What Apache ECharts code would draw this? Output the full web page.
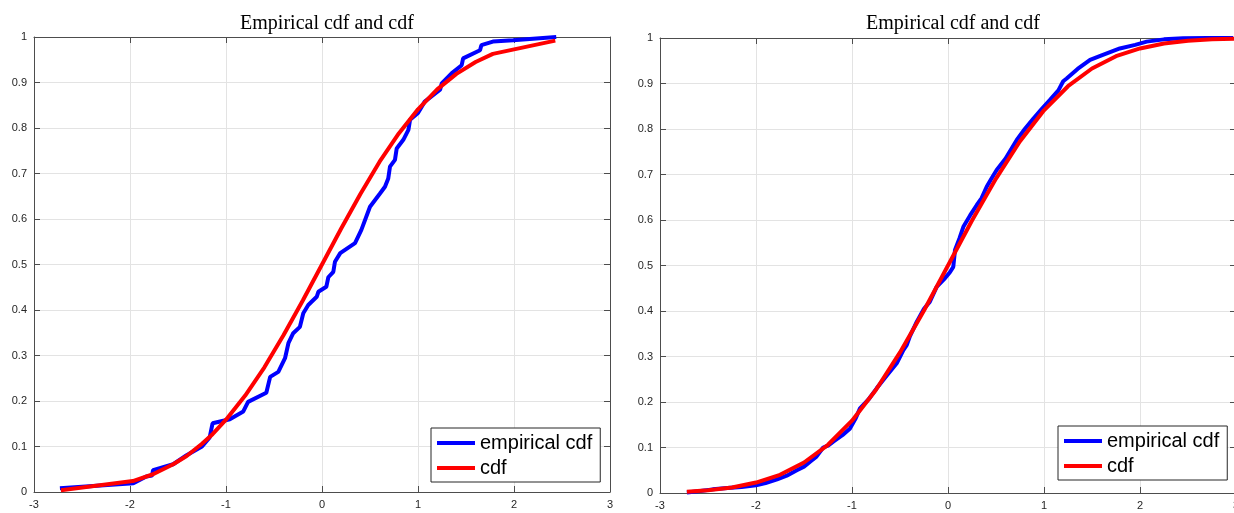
<!DOCTYPE html>
<html>
<head>
<meta charset="utf-8">
<script src="https://cdn.jsdelivr.net/npm/echarts@6/dist/echarts.min.js"></script>
<style>
html,body{margin:0;padding:0;background:#fff;}
#chart{width:1234px;height:513px;}
</style>
</head>
<body>
<div id="chart"></div>
<script>
// ---- data ----
var titleText = 'Empirical cdf and cdf';
var legendNames = ['empirical cdf', 'cdf'];
var xTicks = [-3, -2, -1, 0, 1, 2, 3];
var yTicks = [0, 0.1, 0.2, 0.3, 0.4, 0.5, 0.6, 0.7, 0.8, 0.9, 1];

// left panel: empirical cdf
var leftEmpX = [-2.73, -1.965, -1.83, -1.77, -1.76, -1.55, -1.41, -1.25, -1.17, -1.14, -0.96, -0.82, -0.77, -0.58, -0.54, -0.455, -0.385, -0.35, -0.30, -0.23, -0.195, -0.143, -0.055, -0.038, 0.045, 0.066, 0.118, 0.135, 0.19, 0.344, 0.41, 0.5, 0.604, 0.656, 0.69, 0.708, 0.76, 0.778, 0.847, 0.9, 0.917, 1.0, 1.07, 1.23, 1.247, 1.35, 1.455, 1.47, 1.646, 1.66, 1.78, 1.99, 2.44];
var leftEmpY = [0.008, 0.019, 0.034, 0.036, 0.048, 0.061, 0.081, 0.10, 0.12, 0.151, 0.16, 0.177, 0.198, 0.218, 0.253, 0.264, 0.294, 0.327, 0.349, 0.363, 0.393, 0.411, 0.429, 0.44, 0.451, 0.472, 0.484, 0.506, 0.525, 0.547, 0.576, 0.627, 0.656, 0.671, 0.689, 0.715, 0.73, 0.755, 0.774, 0.796, 0.818, 0.833, 0.858, 0.884, 0.898, 0.92, 0.938, 0.953, 0.971, 0.982, 0.99, 0.993, 1.0];
// left panel: cdf
var leftCdfX = [-2.72, -1.97, -1.76, -1.55, -1.41, -1.25, -1.14, -1.0, -0.8, -0.6, -0.4, -0.2, 0, 0.2, 0.4, 0.6, 0.8, 1.0, 1.2, 1.4, 1.6, 1.78, 2.43];
var leftCdfY = [0.004, 0.024, 0.039, 0.061, 0.079, 0.106, 0.127, 0.159, 0.212, 0.274, 0.345, 0.421, 0.5, 0.579, 0.655, 0.726, 0.788, 0.841, 0.885, 0.919, 0.945, 0.963, 0.992];

// right panel: empirical cdf
var rightEmpX = [-2.72, -2.6, -2.45, -2.3, -2.15, -2.0, -1.9, -1.78, -1.68, -1.575, -1.5, -1.43, -1.37, -1.3, -1.25, -1.195, -1.1, -1.02, -0.96, -0.917, -0.83, -0.743, -0.65, -0.534, -0.465, -0.43, -0.396, -0.326, -0.25, -0.19, -0.118, -0.04, 0.02, 0.055, 0.073, 0.12, 0.16, 0.23, 0.3, 0.35, 0.403, 0.45, 0.507, 0.6, 0.716, 0.8, 0.89, 0.98, 1.0625, 1.15, 1.2, 1.236, 1.35, 1.48, 1.6, 1.79, 1.95, 2.07, 2.25, 2.45, 2.7, 2.97];
var rightEmpY = [0.001, 0.004, 0.008, 0.011, 0.013, 0.017, 0.022, 0.030, 0.038, 0.05, 0.058, 0.07, 0.08, 0.10, 0.104, 0.113, 0.127, 0.142, 0.165, 0.186, 0.205, 0.23, 0.255, 0.285, 0.314, 0.325, 0.345, 0.376, 0.405, 0.42, 0.453, 0.47, 0.485, 0.497, 0.534, 0.56, 0.585, 0.61, 0.633, 0.648, 0.673, 0.69, 0.71, 0.735, 0.776, 0.80, 0.823, 0.845, 0.864, 0.885, 0.905, 0.911, 0.932, 0.952, 0.962, 0.977, 0.985, 0.992, 0.997, 0.9993, 1.0, 1.0];
// right panel: cdf
var rightCdfX = [-2.72, -2.5, -2.25, -2, -1.75, -1.5, -1.25, -1, -0.75, -0.5, -0.25, 0, 0.25, 0.5, 0.75, 1, 1.25, 1.5, 1.75, 2, 2.25, 2.5, 2.75, 3.0];
var rightCdfY = [0.003, 0.006, 0.012, 0.023, 0.040, 0.067, 0.106, 0.159, 0.227, 0.309, 0.401, 0.5, 0.599, 0.691, 0.773, 0.841, 0.894, 0.933, 0.960, 0.977, 0.988, 0.994, 0.997, 0.9986];

function pairs(xs, ys) { return xs.map(function (x, i) { return [x, ys[i]]; }); }

var BLUE = '#0000ff', RED = '#ff0000';
var AXIS = '#4d4d4d', GRIDC = '#e3e3e3', LABEL = '#262626';
var sansFont = 'Liberation Sans, Arial, Helvetica, sans-serif';

var grids = [
  { left: 34, top: 37, width: 576, height: 455, outerBoundsMode: 'none', containLabel: false },
  { left: 660, top: 38, width: 576, height: 455, outerBoundsMode: 'none', containLabel: false }
];

function mainX(gi) {
  return {
    type: 'value', gridIndex: gi, position: 'bottom',
    min: xTicks[0], max: xTicks[xTicks.length - 1], interval: 1,
    axisLine: { show: true, onZero: false, lineStyle: { color: AXIS, width: 1 } },
    axisTick: { show: true, inside: true, length: 6, lineStyle: { color: AXIS } },
    axisLabel: { show: true, color: LABEL, fontSize: 11, fontFamily: sansFont, margin: 7, showMinLabel: true, showMaxLabel: true },
    splitLine: { show: true, lineStyle: { color: GRIDC, width: 1 } }
  };
}
function topX(gi) {
  return {
    type: 'value', gridIndex: gi, position: 'top',
    min: xTicks[0], max: xTicks[xTicks.length - 1], interval: 1,
    axisLine: { show: true, onZero: false, lineStyle: { color: AXIS, width: 1 } },
    axisTick: { show: true, inside: true, length: 6, lineStyle: { color: AXIS } },
    axisLabel: { show: false },
    splitLine: { show: false }
  };
}
function mainY(gi) {
  return {
    type: 'value', gridIndex: gi, position: 'left',
    min: yTicks[0], max: yTicks[yTicks.length - 1], interval: 0.1,
    axisLine: { show: true, onZero: false, lineStyle: { color: AXIS, width: 1 } },
    axisTick: { show: true, inside: true, length: 6, lineStyle: { color: AXIS } },
    axisLabel: { show: true, color: LABEL, fontSize: 11, fontFamily: sansFont, margin: 7, showMinLabel: true, showMaxLabel: true,
      formatter: function (v) { return String(Math.round(v * 10) / 10); } },
    splitLine: { show: true, lineStyle: { color: GRIDC, width: 1 } }
  };
}
function rightY(gi) {
  return {
    type: 'value', gridIndex: gi, position: 'right',
    min: yTicks[0], max: yTicks[yTicks.length - 1], interval: 0.1,
    axisLine: { show: true, onZero: false, lineStyle: { color: AXIS, width: 1 } },
    axisTick: { show: true, inside: true, length: 6, lineStyle: { color: AXIS } },
    axisLabel: { show: false },
    splitLine: { show: false }
  };
}

function lineSeries(name, data, color, xi, yi, z) {
  return {
    name: name, type: 'line', data: data, xAxisIndex: xi, yAxisIndex: yi,
    showSymbol: false, symbol: 'none', smooth: false, z: z,
    color: color,
    itemStyle: { color: color },
    lineStyle: { color: color, width: 4 },
    emphasis: { disabled: true }
  };
}

function legendAt(left, top) {
  return {
    data: legendNames, left: left, top: top, orient: 'vertical',
    icon: 'rect', itemWidth: 38, itemHeight: 4, itemGap: 5,
    padding: [5, 8, 4, 6],
    borderColor: '#262626', borderWidth: 1, borderRadius: 0,
    backgroundColor: '#ffffff',
    selectedMode: false,
    textStyle: { fontSize: 20, color: '#000', fontFamily: sansFont }
  };
}

var option = {
  animation: false,
  backgroundColor: '#ffffff',
  title: [
    { text: titleText, left: 322, top: 9, textAlign: 'center',
      textStyle: { fontFamily: 'Liberation Serif, Times New Roman, serif', fontWeight: 'normal', fontSize: 20, color: '#000' } },
    { text: titleText, left: 948, top: 9, textAlign: 'center',
      textStyle: { fontFamily: 'Liberation Serif, Times New Roman, serif', fontWeight: 'normal', fontSize: 20, color: '#000' } }
  ],
  grid: grids,
  xAxis: [mainX(0), topX(0), mainX(1), topX(1)],
  yAxis: [mainY(0), rightY(0), mainY(1), rightY(1)],
  legend: [legendAt(431, 428), legendAt(1058, 426)],
  series: [
    lineSeries(legendNames[0], pairs(leftEmpX, leftEmpY), BLUE, 0, 0, 2),
    lineSeries(legendNames[1], pairs(leftCdfX, leftCdfY), RED, 0, 0, 3),
    lineSeries(legendNames[0], pairs(rightEmpX, rightEmpY), BLUE, 2, 2, 2),
    lineSeries(legendNames[1], pairs(rightCdfX, rightCdfY), RED, 2, 2, 3)
  ]
};

var chart = echarts.init(document.getElementById('chart'), null, { renderer: 'canvas' });
chart.setOption(option);
</script>
</body>
</html>
